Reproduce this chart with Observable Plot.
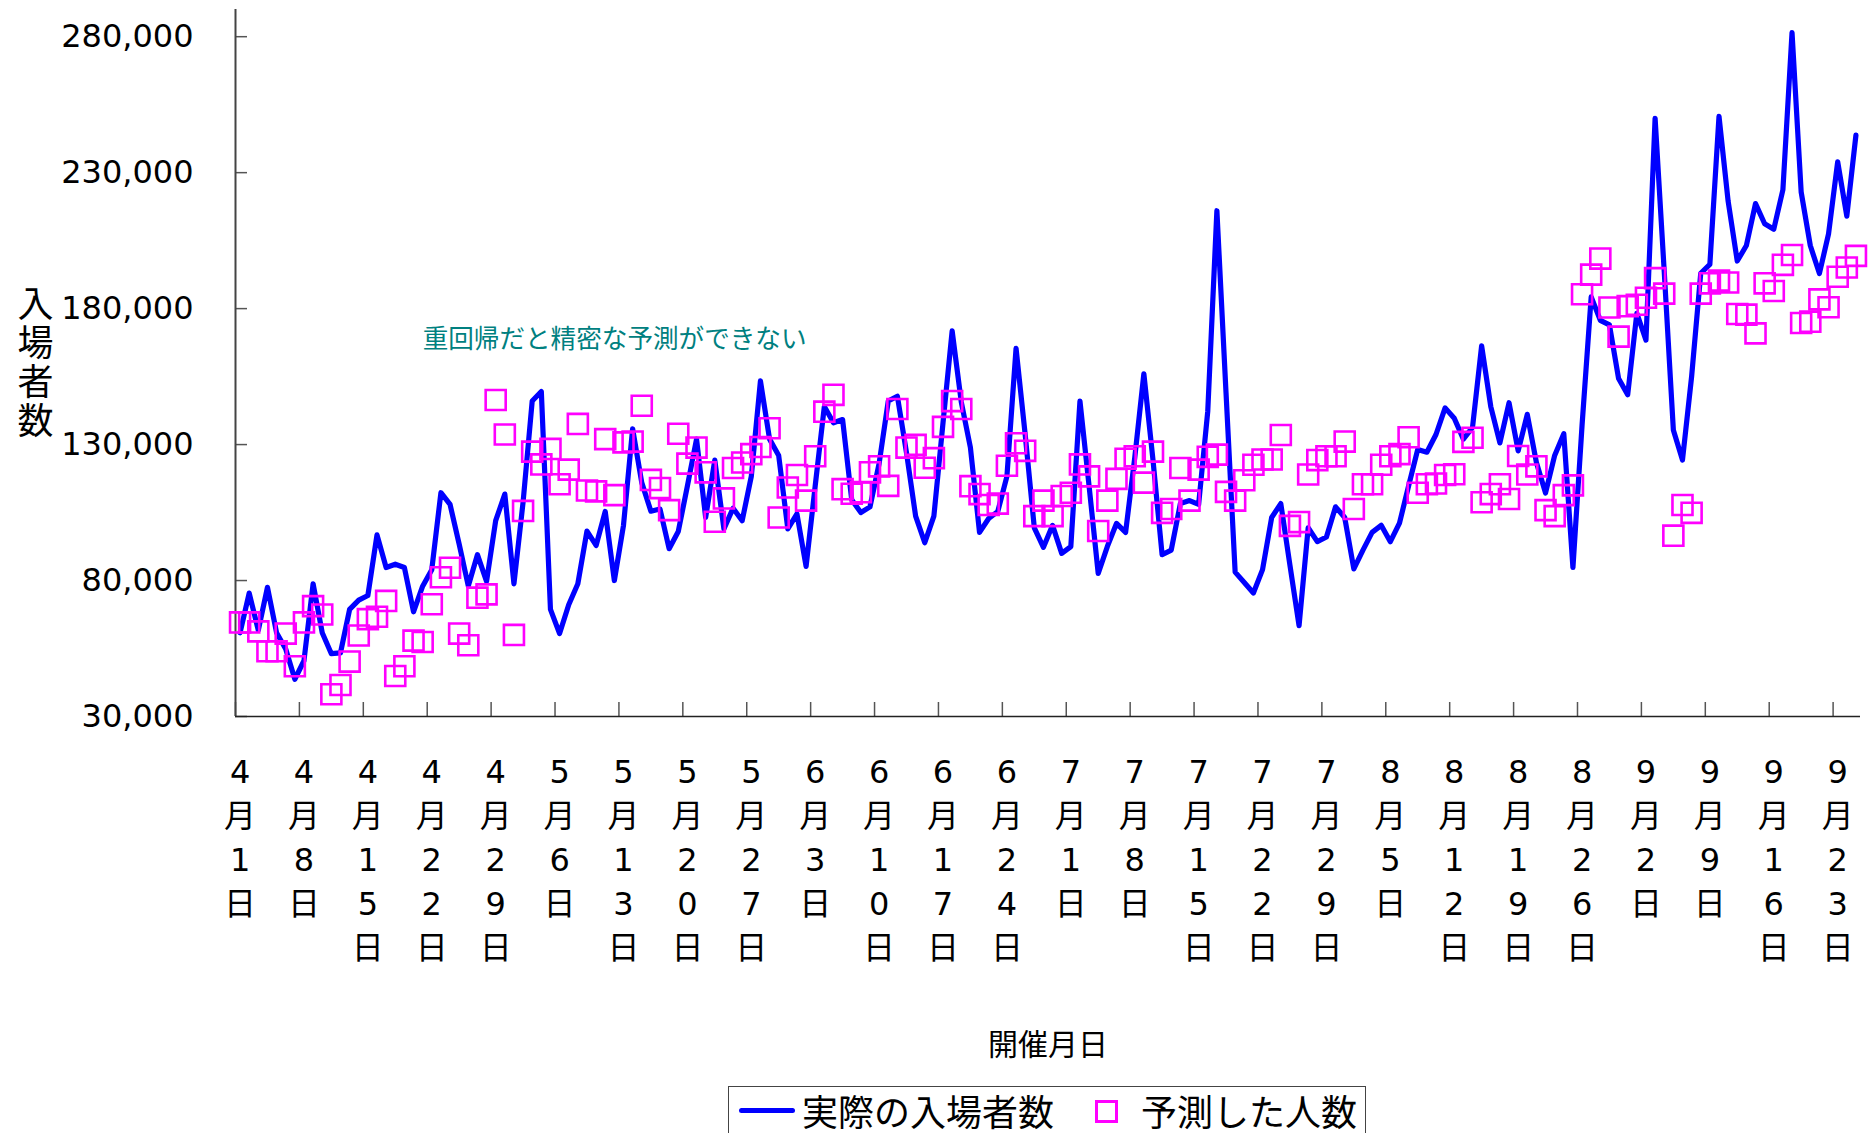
<!DOCTYPE html>
<html>
<head>
<meta charset="utf-8">
<script src="https://cdn.jsdelivr.net/npm/d3@7"></script>
<script src="https://cdn.jsdelivr.net/npm/@observablehq/plot@0.6"></script>
<style>
  html, body { margin: 0; padding: 0; background: #fff; overflow: hidden; width: 1870px; height: 1133px; }
  #chart { position: absolute; left: 0; top: 0; }
  #legend { position: absolute; left: 728px; top: 1086px; width: 638px; height: 70px; box-sizing: border-box;
            border: 1.5px solid #444; background: #fff; font-family: "Noto Sans CJK JP", sans-serif; }
  #legend .lbl { position: absolute; font-size: 36px; line-height: 36px; color: #000; white-space: nowrap; }
  #legend .lineKey { position: absolute; left: 10px; top: 21px; width: 56px; height: 5px; border-radius: 3px; background: #0000ff; }
  #legend .sqKey { position: absolute; left: 366px; top: 13px; width: 23px; height: 23px; box-sizing: border-box; border: 3px solid #ff00ff; }
</style>
</head>
<body>
<div id="chart"></div>
<div id="legend">
  <div class="lineKey"></div>
  <div class="lbl" id="lbl1" style="left:73px; top:5px;"></div>
  <div class="sqKey"></div>
  <div class="lbl" id="lbl2" style="left:412px; top:5px;"></div>
</div>
<script>
// ---- data ----
const year = 2005;
const startDate = "2005-04-01";

const actual = [
  60800, 75400, 61700, 77500, 60800, 54800, 43700, 50500, 78800, 60800,
  53100, 53400, 69400, 72800, 74500, 96800, 84800, 86000, 84800, 68500,
  77900, 84000, 112300, 108000, 93400, 78000, 89500, 79700, 102000, 111800,
  78800, 108800, 146000, 149500, 69400, 60500, 71100, 78800, 98200, 92900,
  105400, 80000, 100300, 135800, 116000, 105500, 106300, 91700, 98000, 114800,
  132000, 103200, 124300, 99000, 106600, 102000, 118300, 153400, 132000, 126000,
  99000, 104500, 85200, 114800, 144000, 138000, 139200, 109700, 105000, 107100,
  123000, 146000, 147800, 127000, 103700, 93900, 103700, 138000, 171800, 145700,
  128900, 97700, 102800, 105400, 118300, 165400, 133700, 99400, 92200, 100300,
  90000, 92500, 146000, 114800, 82600, 92500, 101000, 97700, 125100, 156000,
  124300, 89500, 91200, 108300, 109400, 108000, 142300, 216000, 149100, 83100,
  79300, 75400, 84000, 103200, 108300, 85700, 63400, 99400, 94300, 96000,
  107100, 103200, 84300, 91200, 97700, 100300, 94300, 101100, 114800, 128200,
  127200, 133700, 143500, 139700, 132000, 136300, 166300, 144000, 130600, 145400,
  127700, 141100, 123400, 112200, 126000, 134000, 84800, 137100, 184300, 175700,
  174000, 154300, 148300, 178300, 168400, 250000, 193700, 135400, 124300, 155000,
  193000, 196300, 250700, 219500, 197500, 203200, 218600, 211200, 209200, 223700,
  281500, 222900, 203200, 192900, 207500, 234000, 214000, 243800
];

const predicted = [
  64600, 64600, 61300, 54000, 54000, 60500, 48500, 64600, 70600, 67500,
  38200, 41600, 50200, 59800, 65800, 66700, 72500, 44900, 48500, 57900,
  57400, 71300, 81200, 84700, 60500, 56200, 73700, 74900, 146400, 133700,
  60000, 105600, 127400, 122700, 128400, 115400, 120800, 137600, 113100, 112800,
  132000, 111400, 130800, 131100, 144300, 117000, 114000, 105900, 134000, 123000,
  128900, 119800, 101600, 110200, 121400, 123400, 126500, 129100, 136000, 103200,
  114200, 118800, 109400, 125700, 142100, 148300, 113600, 111900, 112500, 119800,
  122000, 114800, 143100, 128900, 129900, 121500, 125000, 136500, 146000, 143100,
  114700, 111800, 107800, 108300, 122200, 130500, 127700, 103700, 109400, 103700,
  111100, 112300, 122700, 118300, 98200, 109400, 117400, 124800, 125700, 116000,
  127400, 104900, 106300, 121400, 109400, 120800, 125500, 126300, 112600, 109400,
  116900, 122600, 124500, 124500, 133500, 100100, 101500, 119000, 124300, 125700,
  125700, 131100, 106300, 115400, 115400, 122600, 125700, 126500, 132700, 112300,
  115400, 115700, 118800, 119100, 131000, 132500, 108800, 111800, 115400, 110000,
  125800, 119000, 122000, 105900, 103700, 111400, 115000, 185300, 192500, 198400,
  180400, 169700, 180900, 181400, 184000, 191200, 185500, 96500, 107800, 104900,
  185500, 189300, 190300, 189600, 178000, 177800, 170900, 189300, 186500, 196100,
  199700, 174700, 175200, 183400, 180500, 191700, 195100, 199400
];

const xTickLabels = ["4月1日","4月8日","4月15日","4月22日","4月29日","5月6日","5月13日","5月20日",
  "5月27日","6月3日","6月10日","6月17日","6月24日","7月1日","7月8日","7月15日","7月22日","7月29日",
  "8月5日","8月12日","8月19日","8月26日","9月2日","9月9日","9月16日","9月23日"];
const yTicks = [30000, 80000, 130000, 180000, 230000, 280000];
const yDomain = [30000, 290000];
const seriesNames = ["実際の入場者数", "予測した人数"];
const xTitle = "開催月日";
const yTitle = "入場者数";
const annotation = {date: "2005-04-21T12:00:00Z", value: 168600, text: "重回帰だと精密な予測ができない"};

// ---- build ----
const DAY = 864e5;
const t0 = Date.parse(startDate + "T00:00:00Z");
const rows = actual.map((v, i) => ({date: new Date(t0 + i * DAY + DAY / 2), actual: v, predicted: predicted[i]}));
const xDomain = [new Date(t0), new Date(t0 + actual.length * DAY)];
const md = s => s.match(/\d+/g).map(Number);
const tickStart = s => { const [m, d] = md(s); return new Date(Date.UTC(year, m - 1, d)); };
const tickCenter = s => { const [m, d] = md(s); return new Date(Date.UTC(year, m - 1, d, 12)); };
const stack = s => [...s].join("\n");
const FONT = "'DejaVu Sans','Noto Sans CJK JP',sans-serif";

const plot = Plot.plot({
  width: 1870,
  height: 1080,
  marginLeft: 235,
  marginRight: 10,
  marginTop: 9,
  marginBottom: 364,
  x: {type: "utc", domain: xDomain, axis: null},
  y: {domain: yDomain, axis: null},
  style: {fontFamily: FONT, background: "#fff", color: "#000", overflow: "visible"},
  marks: [
    // inward tick marks
    Plot.ruleX(xTickLabels, {x: tickStart, y1: () => yDomain[0], y2: () => yDomain[0], insetBottom: 14, stroke: "#555", strokeWidth: 1.5}),
    Plot.ruleY(yTicks, {y: d => d, x1: () => xDomain[0], x2: () => xDomain[0], insetRight: -12, stroke: "#555", strokeWidth: 1.5}),
    // axis lines
    Plot.ruleX([xDomain[0]], {stroke: "#444", strokeWidth: 2}),
    Plot.ruleY([yDomain[0]], {stroke: "#222", strokeWidth: 1.5}),
    // series
    Plot.line(rows, {x: "date", y: "actual", stroke: "#0000ff", strokeWidth: 5.2, strokeLinejoin: "round", strokeLinecap: "round"}),
    Plot.dot(rows, {x: "date", y: "predicted", symbol: "square", r: 11.3, stroke: "#ff00ff", strokeWidth: 2.6, fill: "none"}),
    // y tick labels
    Plot.text(yTicks, {frameAnchor: "left", y: d => d, text: d3.format(","), textAnchor: "end", dx: -42, fontSize: 32, fill: "#000"}),
    // x tick labels (stacked vertically)
    Plot.text(xTickLabels, {x: tickCenter, frameAnchor: "bottom", text: stack, lineAnchor: "top", lineHeight: 1.375, dy: 35, fontSize: 32, fill: "#000"}),
    // axis titles
    Plot.text([xTitle], {frameAnchor: "bottom", text: d => d, dy: 338, fontSize: 30, fill: "#000"}),
    Plot.text([yTitle], {frameAnchor: "left", text: stack, textAnchor: "middle", dx: -200, lineHeight: 1.083, fontSize: 36, fill: "#000"}),
    // annotation
    Plot.text([annotation], {x: d => new Date(d.date), y: "value", text: "text", textAnchor: "start", fill: "#008080", fontSize: 25.6})
  ]
});
document.getElementById("chart").appendChild(plot);
document.getElementById("lbl1").textContent = seriesNames[0];
document.getElementById("lbl2").textContent = seriesNames[1];
</script>
</body>
</html>
